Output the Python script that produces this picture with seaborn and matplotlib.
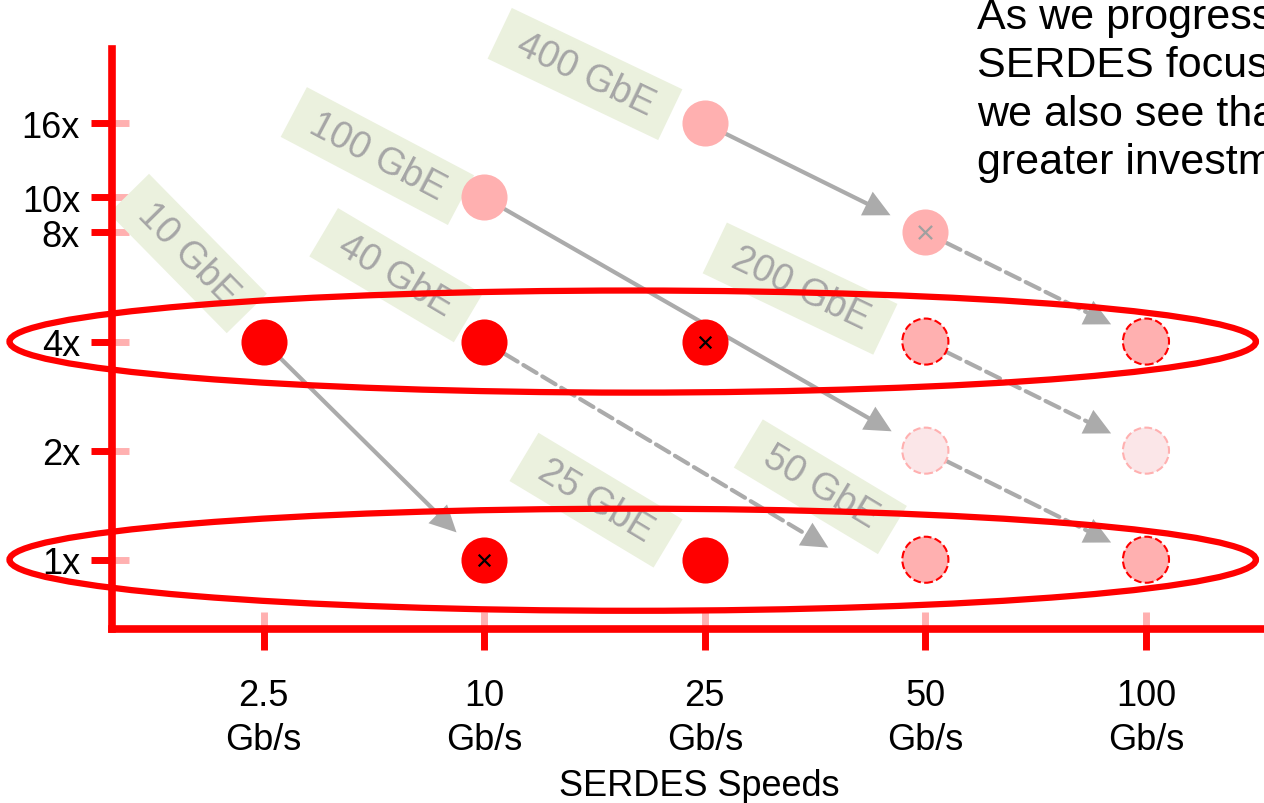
import pandas as pd
import matplotlib
matplotlib.use("Agg")
import matplotlib.pyplot as plt
import seaborn as sns
from matplotlib.patches import Ellipse
from matplotlib.ticker import FixedLocator, NullFormatter

# SERDES speeds (x categories) and lane multipliers (y ticks)
speeds = ["2.5", "10", "25", "50", "100"]
lane_ticks = [1, 2, 4, 8, 10, 16]

# Circles: SERDES speed, number of lanes, kind
pt_speed = ["2.5", "10", "25", "10", "25", "10", "25", "50", "50", "100", "50", "100", "50", "100"]
pt_lanes = [4, 4, 4, 1, 1, 10, 16, 8, 4, 4, 1, 1, 2, 2]
pt_kind = ["now", "now", "now_x", "now_x", "now", "next", "next", "next_x",
           "future", "future", "future", "future", "far", "far"]

# Migration arrows (speed index, lanes)
arr_x0 = [0, 1, 2, 3, 3, 3, 1]
arr_y0 = [4, 10, 16, 8, 4, 2, 4]
arr_x1 = [1, 3, 3, 4, 4, 4, 2.56]
arr_y1 = [1, 2, 8, 4, 2, 1, 1.08]
arr_dashed = [False, False, False, True, True, True, True]
arr_to_circle = [True, True, True, True, True, True, False]

# Ethernet rate labels
eth_names = ["10 GbE", "100 GbE", "400 GbE", "40 GbE", "200 GbE", "25 GbE", "50 GbE"]
eth_x = [-0.343, 0.516, 1.457, 0.600, 2.432, 1.507, 2.524]
eth_y = [7.0, 13.0, 21.9, 6.1, 5.6, 1.46, 1.59]
eth_angle = [-45.5, -27.8, -25.5, -30.7, -25.5, -31.0, -31.0]

# Rows circled by the red ellipses
highlight_rows = [4, 1]

# slide note (cut off at the right edge in the original)
note_lines = ["As we progress", "SERDES focus", "we also see tha", "greater investm"]

RED = "#FF0000"
PINK = "#FFB0B0"
PALE = "#FBE6E8"
GREY = "#ABABAB"

sns.set_style("white")
plt.rcParams["font.family"] = ["Liberation Sans", "DejaVu Sans"]

df = pd.DataFrame({"speed": pt_speed, "lanes": pt_lanes, "kind": pt_kind})
df["xi"] = df["speed"].map({s: i for i, s in enumerate(speeds)})

fig = plt.figure(figsize=(12.64, 8.04), dpi=100)
ax = fig.add_axes([112 / 1264, 1 - 630 / 804, 1 - 112 / 1264, 580 / 804])

ax.set_yscale("log", base=2)
ax.set_xlim(-0.687, 4.535)
ax.set_ylim(0.644, 25.67)

styles = {
    "now": dict(color=RED, edgecolor=RED, linewidth=0, linestyle="-"),
    "now_x": dict(color=RED, edgecolor=RED, linewidth=0, linestyle="-"),
    "next": dict(color=PINK, edgecolor=PINK, linewidth=0, linestyle="-"),
    "next_x": dict(color=PINK, edgecolor=PINK, linewidth=0, linestyle="-"),
    "future": dict(color=PINK, edgecolor=RED, linewidth=1.5, linestyle="--"),
    "far": dict(color=PALE, edgecolor=PINK, linewidth=1.5, linestyle="--"),
}
for kind, st in styles.items():
    sub = df[df["kind"] == kind]
    sns.scatterplot(data=sub, x="xi", y="lanes", s=1100, ax=ax, zorder=4, legend=False, **st)

# cross marks
sns.scatterplot(data=df[df["kind"] == "now_x"], x="xi", y="lanes", marker="x", s=70,
                color="black", linewidth=1.6, ax=ax, zorder=5, legend=False)
sns.scatterplot(data=df[df["kind"] == "next_x"], x="xi", y="lanes", marker="x", s=90,
                color="#A0A0A0", linewidth=1.6, ax=ax, zorder=5, legend=False)

# arrows: shaft (solid or dashed) plus a solid filled head
for x0, y0, x1, y1, dashed, to_c in zip(arr_x0, arr_y0, arr_x1, arr_y1, arr_dashed, arr_to_circle):
    shrink_end = 28 if to_c else 0
    ax.annotate("", xy=(x1, y1), xytext=(x0, y0),
                arrowprops=dict(arrowstyle="-", color=GREY, lw=3,
                                linestyle="--" if dashed else "-",
                                shrinkA=17, shrinkB=shrink_end + 6),
                zorder=3)
    ax.annotate("", xy=(x1, y1), xytext=(x0, y0),
                arrowprops=dict(arrowstyle="-|>,head_length=1.0,head_width=0.5",
                                mutation_scale=19, color=GREY, lw=0,
                                shrinkA=17, shrinkB=shrink_end),
                zorder=3)

# rate labels
for name, x, y, ang in zip(eth_names, eth_x, eth_y, eth_angle):
    ax.text(x, y, " " + name + " ", rotation=ang, rotation_mode="anchor",
            ha="center", va="center", fontsize=27, color="#A6A6A6", zorder=1,
            clip_on=False,
            bbox=dict(boxstyle="square,pad=0.27", fc="#EBF1DE", ec="none"))

# red ellipses round the highlighted rows
for lane in highlight_rows:
    yc = ax.transAxes.inverted().transform(ax.transData.transform((0, lane)))[1]
    ax.add_patch(Ellipse((0.452, yc), 1.082, 0.176, transform=ax.transAxes,
                         fill=False, ec=RED, lw=4.5, clip_on=False, zorder=6))

# axes styling
for side in ["top", "right"]:
    ax.spines[side].set_visible(False)
for side in ["left", "bottom"]:
    ax.spines[side].set_color(RED)
    ax.spines[side].set_linewidth(5.5)
    ax.spines[side].set_zorder(7)

ax.set_xticks(range(len(speeds)))
ax.set_xticklabels([s + "\nGb/s" for s in speeds])
ax.set_yticks(lane_ticks)
ax.set_yticklabels([f"{v}x" for v in lane_ticks])
ax.yaxis.set_minor_locator(FixedLocator(lane_ticks))
ax.yaxis.set_minor_formatter(NullFormatter())
ax.xaxis.set_minor_locator(FixedLocator(range(len(speeds))))
ax.xaxis.remove_overlapping_locs = False
ax.yaxis.remove_overlapping_locs = False

ax.tick_params(axis="both", which="both", bottom=True, left=True)
ax.tick_params(axis="both", which="major", direction="out", color=RED,
               width=5, length=15, labelsize=26, labelcolor="black")
ax.tick_params(axis="x", which="major", pad=20)
ax.tick_params(axis="y", which="major", pad=8)
ax.tick_params(axis="both", which="minor", direction="in", color=PINK,
               width=5, length=12)
for t in ax.get_xticklabels():
    t.set_linespacing(1.35)

ax.set_xlabel("SERDES Speeds", fontsize=26, color="black")
ax.xaxis.set_label_coords(0.5095, -0.240)
ax.set_ylabel("")

fig.text(977 / 1264, 1 + 2 / 804, "\n".join(note_lines), fontsize=31, ha="left",
         va="top", linespacing=1.27, color="black")

fig.savefig("out.png", dpi=100)
